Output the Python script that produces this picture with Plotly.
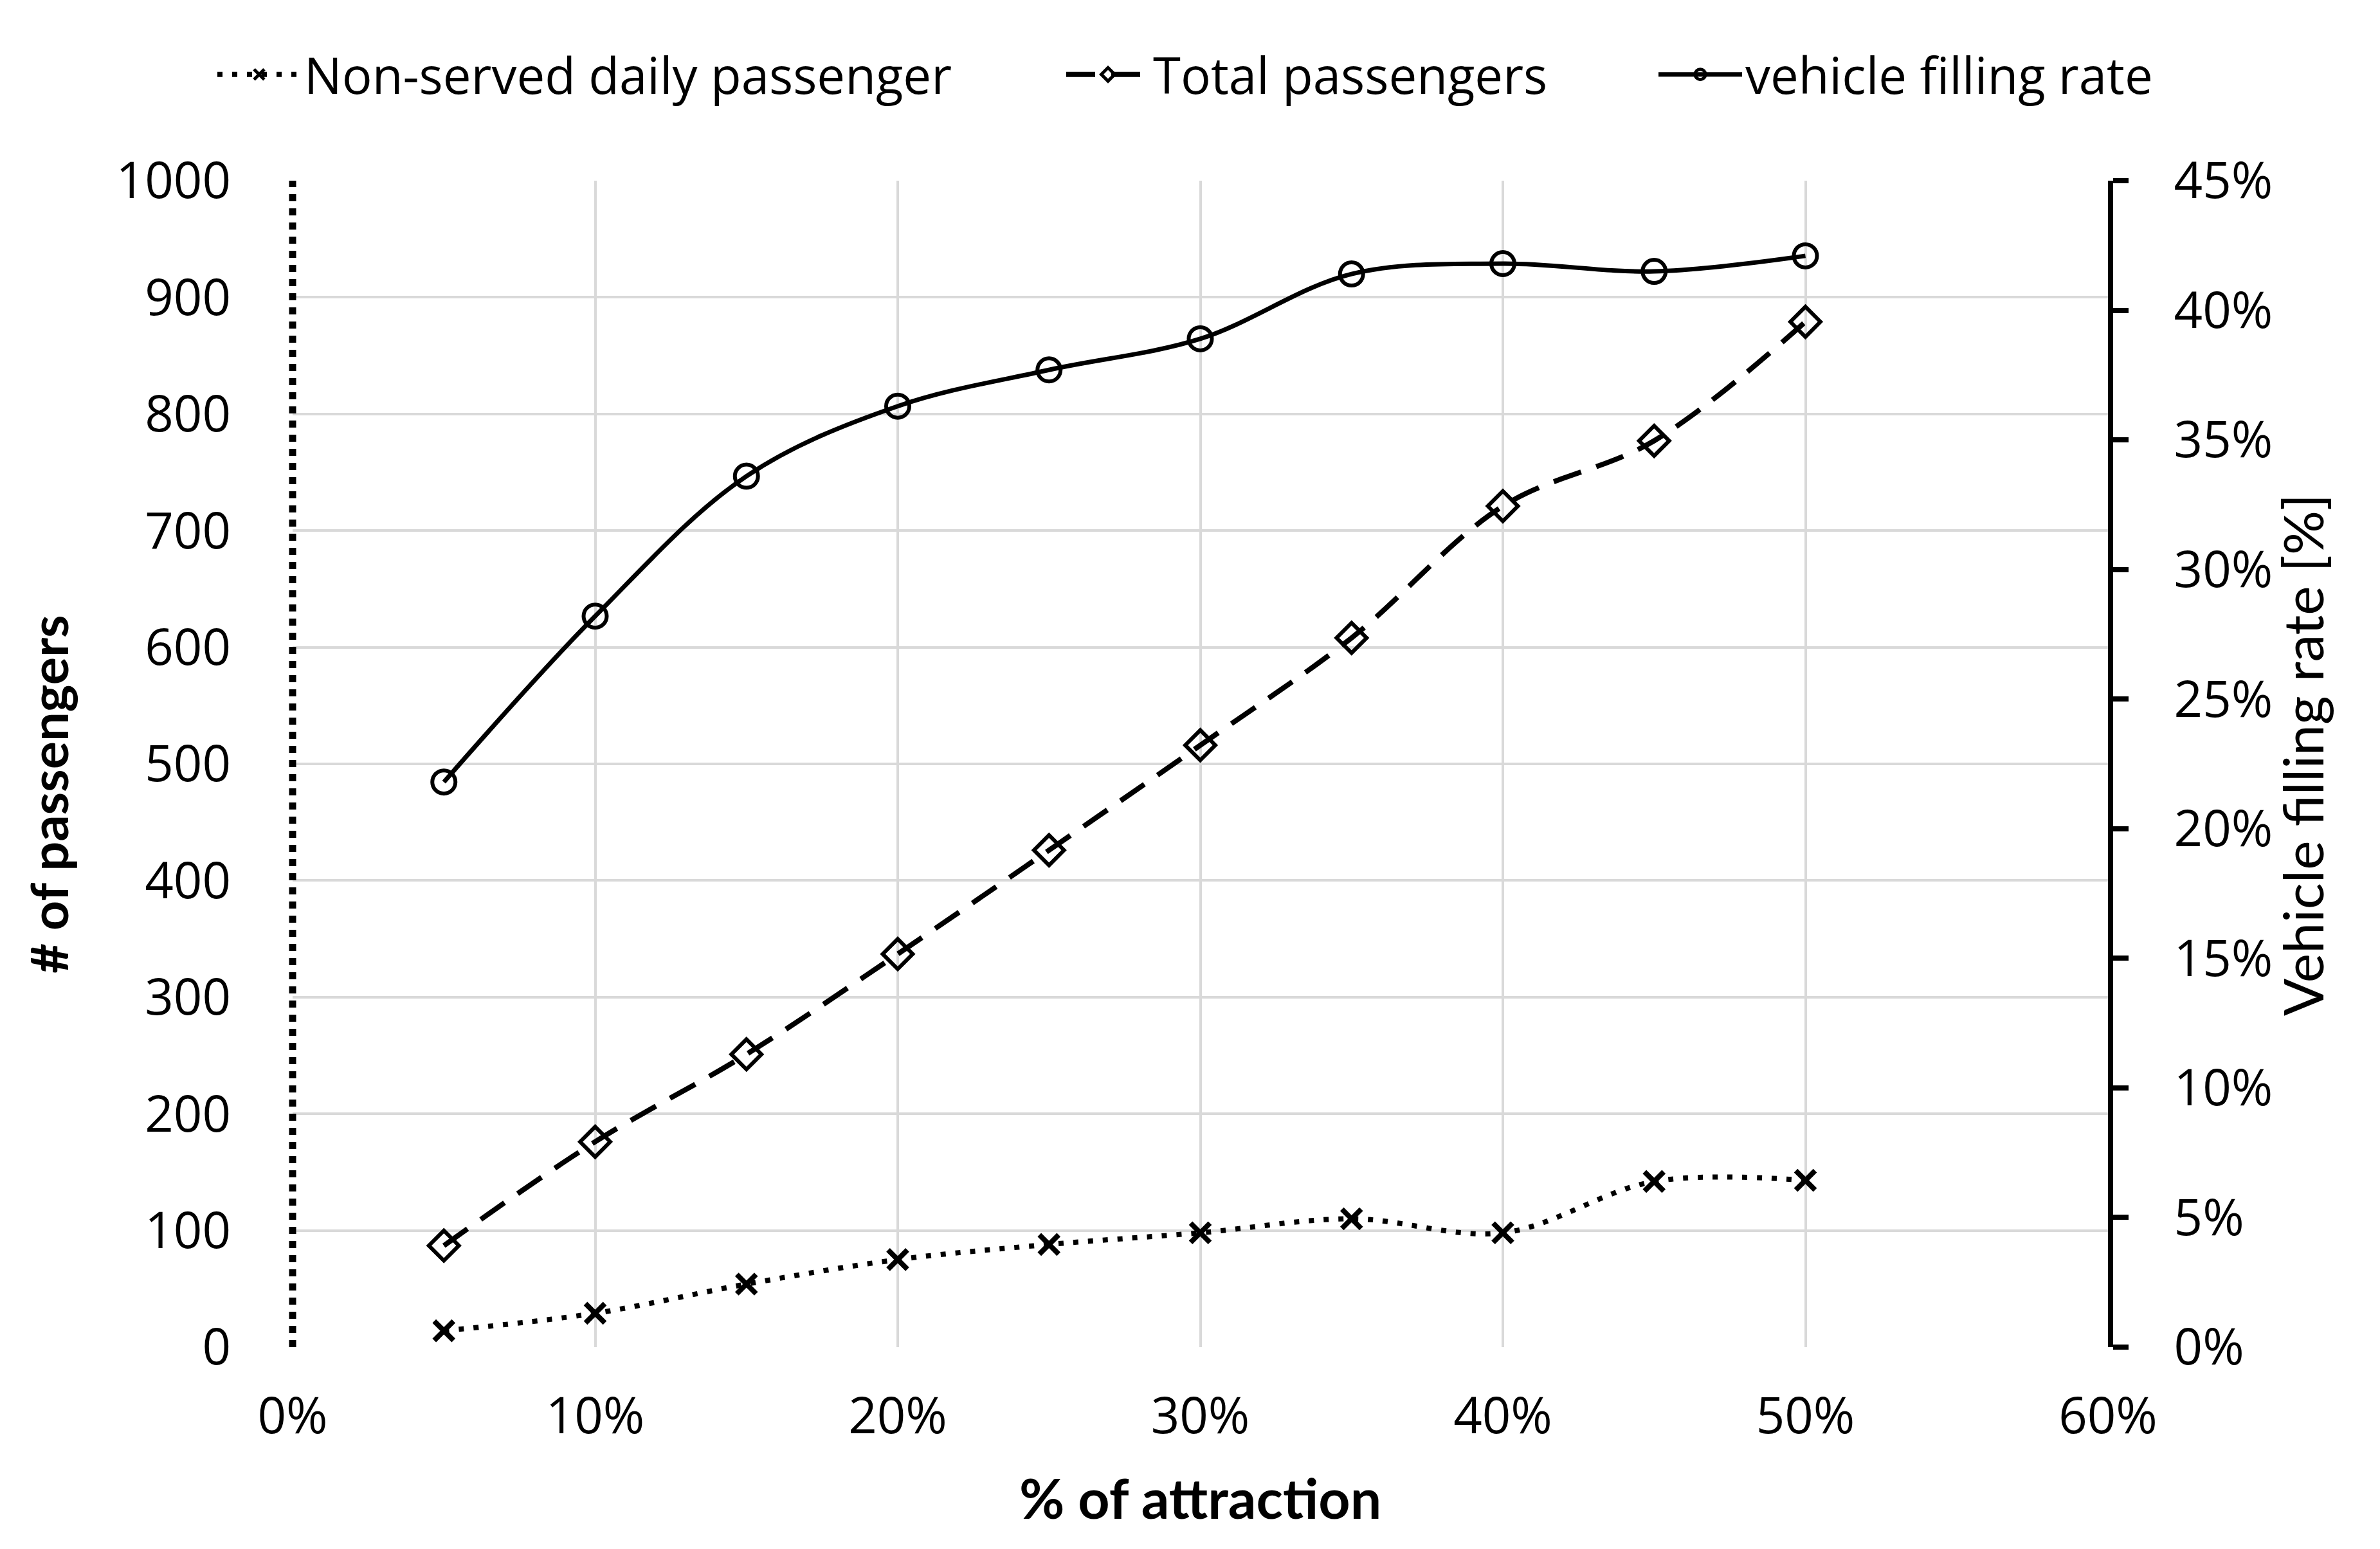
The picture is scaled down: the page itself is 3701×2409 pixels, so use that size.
import plotly.graph_objects as go

attraction = [0.05, 0.10, 0.15, 0.20, 0.25, 0.30, 0.35, 0.40, 0.45, 0.50]
non_served = [14, 29, 54, 75, 88, 98, 110, 98, 142, 143]
total_passengers = [87, 176, 251, 337, 426, 516, 608, 721, 777, 879]
filling_rate = [0.218, 0.282, 0.336, 0.363, 0.377, 0.389, 0.414, 0.418, 0.415, 0.421]

series_names = ["Non-served daily passenger", "Total passengers", "vehicle filling rate"]

W, H = 3701, 2409
L, R, T, B = 447, 431, 273, 322
PW, PH = W - L - R, H - T - B
TICK_FONT = dict(family="Open Sans", size=78, color="black")


def px_x(px):
    return (px - L) / PW


def px_y(py):
    return (H - B - py) / PH


fig = go.Figure()
fig.add_trace(go.Scatter(
    x=attraction, y=non_served, name=series_names[0], mode="lines+markers", legend="legend",
    line=dict(color="black", width=8, dash="8px,15px", shape="spline", smoothing=1),
    marker=dict(symbol="x-thin", size=30, line=dict(color="black", width=8)),
))
fig.add_trace(go.Scatter(
    x=attraction, y=total_passengers, name=series_names[1], mode="lines+markers", legend="legend2",
    line=dict(color="black", width=8, dash="45px,25px", shape="spline", smoothing=1),
    marker=dict(symbol="diamond-open", size=36, color="black", line=dict(color="black", width=6)),
))
fig.add_trace(go.Scatter(
    x=attraction, y=filling_rate, name=series_names[2], mode="lines+markers", yaxis="y2", legend="legend3",
    line=dict(color="black", width=7, shape="spline", smoothing=1),
    marker=dict(symbol="circle-open", size=36, color="black", line=dict(color="black", width=6)),
))

LEG = dict(orientation="h", xanchor="left", yanchor="middle", y=px_y(108),
           font=dict(family="Open Sans", size=78, color="black"),
           itemwidth=130, bgcolor="rgba(0,0,0,0)", borderwidth=0)

fig.update_layout(
    width=W, height=H,
    margin=dict(l=L, r=R, t=T, b=B),
    paper_bgcolor="white", plot_bgcolor="white",
    font=TICK_FONT,
    showlegend=True,
    legend=dict(LEG, x=px_x(325)),
    legend2=dict(LEG, x=px_x(1645)),
    legend3=dict(LEG, x=px_x(2566)),
    xaxis=dict(
        range=[0, 0.6], dtick=0.1, tick0=0, tickformat=".0%",
        showgrid=True, gridcolor="#d9d9d9", gridwidth=4,
        zeroline=False, showline=False, ticks="", ticklabelstandoff=55,
        tickfont=TICK_FONT,
    ),
    yaxis=dict(
        range=[0, 1000], dtick=100, tick0=0,
        showgrid=True, gridcolor="#d9d9d9", gridwidth=4,
        zeroline=False, showline=False, ticks="", ticklabelstandoff=95,
        tickfont=TICK_FONT,
    ),
    yaxis2=dict(
        overlaying="y", side="right", range=[0, 0.45], dtick=0.05, tick0=0,
        tickformat=".0%", showgrid=False, zeroline=False,
        showline=True, linecolor="black", linewidth=8,
        ticks="outside", ticklen=24, tickwidth=8, tickcolor="black",
        ticklabelstandoff=55, tickfont=TICK_FONT,
    ),
    shapes=[dict(
        type="line", xref="paper", yref="paper", x0=0, x1=0, y0=0, y1=1,
        line=dict(color="black", width=11, dash="dot"), layer="above",
    )],
    annotations=[
        dict(text="<b># of passengers</b>", xref="paper", yref="paper",
             x=px_x(66), y=px_y(1227),
             xanchor="center", yanchor="middle", textangle=-90, showarrow=False,
             font=dict(family="Lato", size=81, color="black")),
        dict(text="Vehicle filling rate [%]", xref="paper", yref="paper",
             x=px_x(3571), y=px_y(1166),
             xanchor="center", yanchor="middle", textangle=-90, showarrow=False,
             font=dict(family="Lato", size=86, color="black")),
        dict(text="<b>% of attraction</b>", xref="paper", yref="paper",
             x=px_x(1858), y=px_y(2320),
             xanchor="center", yanchor="middle", showarrow=False,
             font=dict(family="Lato", size=86, color="black")),
    ],
)

fig.write_html("out.html")
